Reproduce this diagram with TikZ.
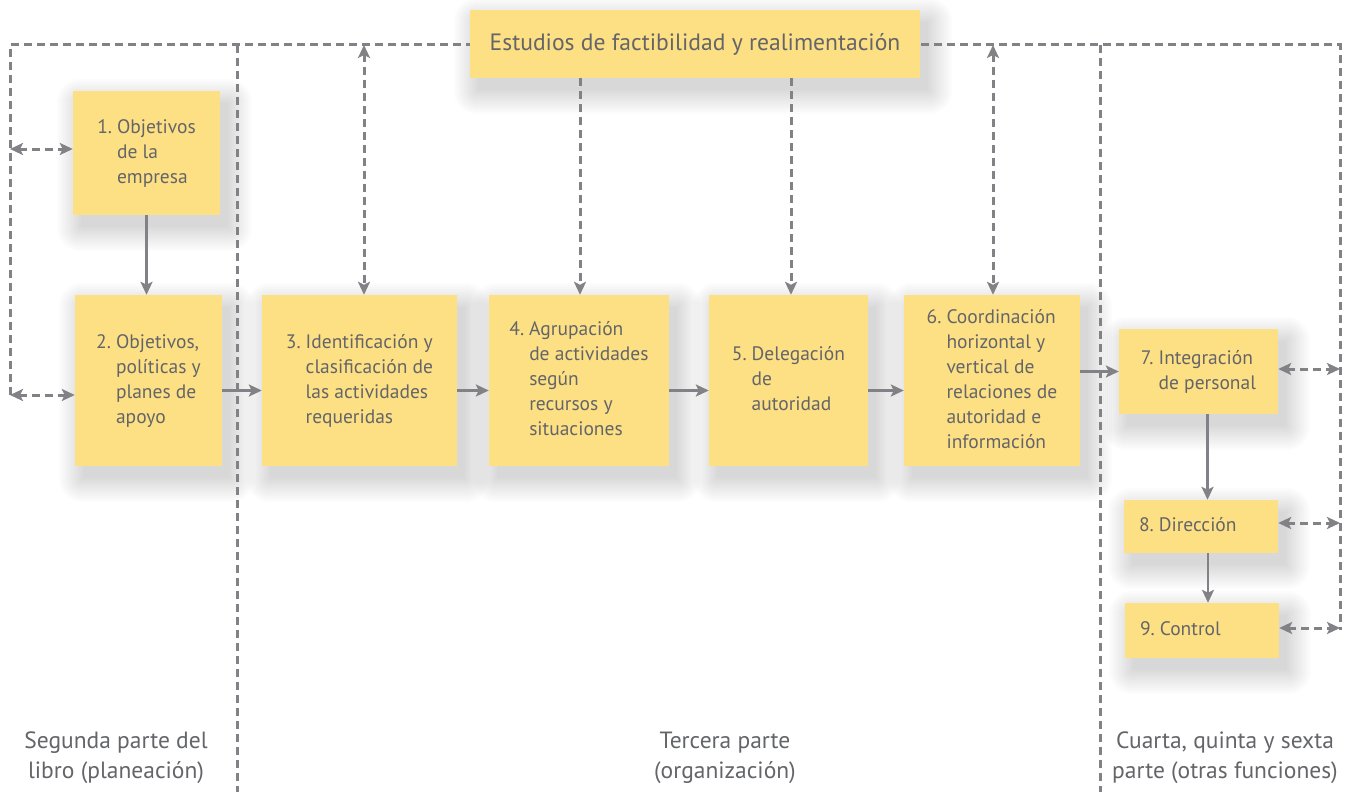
\documentclass[tikz,border=0pt]{standalone}
\usepackage{fontspec}
\setmainfont{PT Sans}
\usetikzlibrary{arrows.meta}
\definecolor{boxy}{HTML}{FDE084}
\definecolor{txtg}{HTML}{646569}
\definecolor{lineg}{HTML}{818186}
\pgfdeclarelayer{back}
\pgfdeclarelayer{bg}
\pgfsetlayers{back,bg,main}
\newcommand\nlst[2]{\begin{tabular}{@{}l@{\hspace{5pt}}l@{}}#1.&#2\end{tabular}}
\newcommand\softshadow[1]{%
  \foreach \i in {0,2,...,24}
    \fill[black,opacity=0.013,rounded corners=\i pt]
      ([xshift={8pt-\i pt},yshift={-12pt+\i pt}]#1.north west) rectangle
      ([xshift={8pt+\i pt},yshift={-12pt-\i pt}]#1.south east);}
\begin{document}
\begin{tikzpicture}[x=1pt,y=-1pt,
  box/.style={fill=boxy, inner sep=0pt, text=txtg, font=\fontsize{19.5}{25}\selectfont},
  lab/.style={text=txtg, align=center, font=\fontsize{23.5}{30}\selectfont},
  dl/.style={draw=lineg, line width=3pt, dash pattern=on 8pt off 5pt},
  sl/.style={draw=lineg, line width=2.8pt},
  tp/.tip={Stealth[length=13pt,width=12pt,inset=3pt]}]
\begin{pgfonlayer}{back}
\fill[white] (0,0) rectangle (1353,792);
\end{pgfonlayer}
\useasboundingbox (0,0) rectangle (1353,792);

% boxes
\node[box, minimum width=450pt, minimum height=68pt, font=\fontsize{23.6}{28}\selectfont] (top) at (695,44) {Estudios de factibilidad y realimentación};
\node[box, minimum width=147pt, minimum height=124pt] (b1) at (146.5,153) {\nlst{1}{Objetivos\\&de la\\&empresa}};
\node[box, minimum width=147pt, minimum height=171pt] (b2) at (148.5,380.5) {\nlst{2}{Objetivos,\\&políticas y\\&planes de\\&apoyo}};
\node[box, minimum width=195pt, minimum height=171pt] (b3) at (359.5,380.5) {\nlst{3}{Identificación y\\&clasificación de\\&las actividades\\&requeridas}};
\node[box, minimum width=180pt, minimum height=171pt] (b4) at (579,380.5) {\nlst{4}{Agrupación\\&de actividades\\&según\\&recursos y\\&situaciones}};
\node[box, minimum width=159pt, minimum height=171pt] (b5) at (788.5,380.5) {\nlst{5}{Delegación\\&de\\&autoridad}};
\node[box, minimum width=176pt, minimum height=171pt] (b6) at (992,380.5) {\nlst{6}{Coordinación\\&horizontal y\\&vertical de\\&relaciones de\\&autoridad e\\&información}};
\node[box, minimum width=159pt, minimum height=85pt] (b7) at (1198.5,371.5) {\nlst{7}{Integración\\&de personal}};
\node[box, minimum width=154pt, minimum height=53pt, text width=124pt, align=left] (b8) at (1201,526.5) {\nlst{8}{Dirección}};
\node[box, minimum width=154pt, minimum height=55pt, text width=124pt, align=left] (b9) at (1202,630.5) {\nlst{9}{Control}};

% bottom labels
\node[lab] (s2) at (116,758) {Segunda parte del\\libro (planeación)};
\node[lab] (s3) at (725,758) {Tercera parte\\(organización)};
\node[lab] (s4) at (1225,758) {Cuarta, quinta y sexta\\parte (otras funciones)};

% coordinates
\coordinate (TL) at (10,45);
\coordinate (TR) at (1340,45);
\coordinate (LB) at (10,395);
\coordinate (RB) at (1340,630);
\coordinate (l1) at (10,149);
\coordinate (r7) at (1340,369);
\coordinate (r8) at (1340,523);
\coordinate (r9) at (1340,628);
\coordinate (d1t) at (237,45);
\coordinate (d1b) at (237,792);
\coordinate (d2t) at (1100,45);
\coordinate (d2b) at (1100,792);
\coordinate (a3) at (364,45);
\coordinate (a6) at (993,45);
\coordinate (a4) at (580,0);
\coordinate (a5) at (791,0);

\begin{pgfonlayer}{bg}
\softshadow{top}
\softshadow{b1}
\softshadow{b2}
\softshadow{b3}
\softshadow{b4}
\softshadow{b5}
\softshadow{b6}
\softshadow{b7}
\softshadow{b8}
\softshadow{b9}
\draw[dl] (LB) -- (TL) -- (TR) -- (RB);
\draw[dl] (d1t) -- (d1b);
\draw[dl] (d2t) -- (d2b);
\end{pgfonlayer}

% dashed arrows
\draw[dl,tp-tp] (l1) -- (l1 -| b1.west);
\draw[dl,tp-tp] (LB) -- (LB -| b2.west);
\draw[dl,tp-tp] (b7.east |- r7) -- (r7);
\draw[dl,tp-tp] (b8.east |- r8) -- (r8);
\draw[dl,tp-tp] (b9.east |- r9) -- (r9);
\draw[dl,tp-tp] (a3) -- (a3 |- b3.north);
\draw[dl,tp-tp] (a6) -- (a6 |- b6.north);
\draw[dl,-tp] (a4 |- top.south) -- (a4 |- b4.north);
\draw[dl,-tp] (a5 |- top.south) -- (a5 |- b5.north);

% solid arrows
\draw[sl,-tp] (b1.south) -- (b1.south |- b2.north);
\draw[sl,-tp] ([yshift=-10pt]b2.east) -- ([yshift=-10pt]b3.west);
\draw[sl,-tp] ([yshift=-10pt]b3.east) -- ([yshift=-10pt]b4.west);
\draw[sl,-tp] ([yshift=-10pt]b4.east) -- ([yshift=-10pt]b5.west);
\draw[sl,-tp] ([yshift=-10pt]b5.east) -- ([yshift=-10pt]b6.west);
\draw[sl,-tp] (b6.east |- b7.west) -- (b7.west);
\draw[sl,-tp] ([xshift=9pt]b7.south) -- ([xshift=9pt]b7.south |- b8.north);
\draw[sl,-tp] ([xshift=7pt]b8.south) -- ([xshift=7pt]b8.south |- b9.north);
\end{tikzpicture}
\end{document}
